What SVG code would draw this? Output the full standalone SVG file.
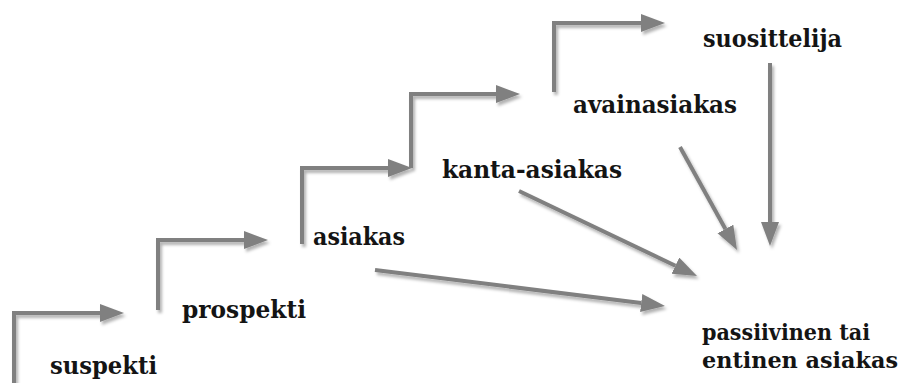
<svg xmlns="http://www.w3.org/2000/svg" width="905" height="383" viewBox="0 0 905 383">
<defs>
<filter id="sh" x="-20%" y="-20%" width="140%" height="140%">
<feDropShadow dx="2" dy="3" stdDeviation="1.8" flood-color="#000" flood-opacity="0.3"/>
</filter>
<marker id="ah" markerUnits="userSpaceOnUse" markerWidth="26" markerHeight="20" refX="0" refY="9" orient="auto" viewBox="0 0 26 20">
<path d="M0,0 L24,9 L0,18 z" fill="#808080"/>
</marker>
<style>
.c{fill:none;stroke:#808080;stroke-width:4;marker-end:url(#ah)}
.t{font-family:"DejaVu Serif","Liberation Serif",serif;font-weight:bold;font-size:24px;fill:#141414}
.s{font-size:22px}
</style>
</defs>
<rect width="905" height="383" fill="#fff"/>
<g id="connectors" filter="url(#sh)">
<path class="c" d="M14,383 V313 H100"/>
<path class="c" d="M158,310 V240 H244"/>
<path class="c" d="M302,244 V168 H388"/>
<path class="c" d="M411,168 V94 H496"/>
<path class="c" d="M554,92 V23 H641"/>
<path class="c" d="M375,270 L641.2,303"/>
<path class="c" d="M519,191 L675.4,265.7"/>
<path class="c" d="M680,147 L725.4,229"/>
<path class="c" d="M770,63 V222"/>
</g>
<g id="suspekti"><text class="t" x="50" y="374" textLength="107" lengthAdjust="spacingAndGlyphs">suspekti</text></g>
<g id="prospekti"><text class="t" x="182" y="318" textLength="124" lengthAdjust="spacingAndGlyphs">prospekti</text></g>
<g id="asiakas"><text class="t" x="313" y="245" textLength="92" lengthAdjust="spacingAndGlyphs">asiakas</text></g>
<g id="kanta-asiakas"><text class="t" x="442" y="178" textLength="180" lengthAdjust="spacingAndGlyphs">kanta-asiakas</text></g>
<g id="avainasiakas"><text class="t" x="573" y="113" textLength="164" lengthAdjust="spacingAndGlyphs">avainasiakas</text></g>
<g id="suosittelija"><text class="t" x="703" y="47" textLength="139" lengthAdjust="spacingAndGlyphs">suosittelija</text></g>
<g id="passiivinen"><text class="t s" x="702" y="340" textLength="168" lengthAdjust="spacingAndGlyphs">passiivinen tai</text><text class="t s" x="702" y="368" textLength="196" lengthAdjust="spacingAndGlyphs">entinen asiakas</text></g>
</svg>
